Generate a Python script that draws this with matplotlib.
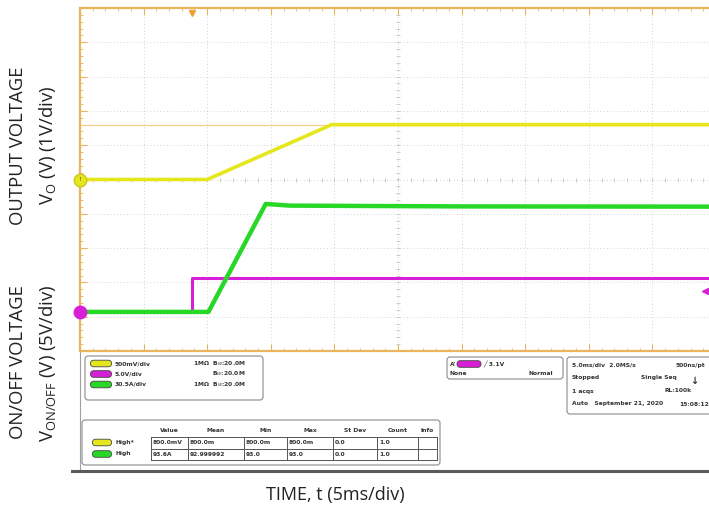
import numpy as np
import matplotlib
matplotlib.use("Agg")
from matplotlib import pyplot as plt
from matplotlib.patches import FancyBboxPatch

plt.rcParams['font.family'] = ['Open Sans', 'DejaVu Sans']
plt.rcParams['mathtext.fontset'] = 'custom'
plt.rcParams['mathtext.rm'] = 'Open Sans'

# time base and vertical scales
ms_per_div = 5.0
vo_per_div = 0.5      # V/div, channel 1
von_per_div = 5.0     # V/div, channel 2
io_per_div = 30.5     # A/div, channel 3
ch2_offset = -3.86    # ground marker position, divisions
ch3_offset = -3.86

# traces (time in ms)
t_vo = [0.0, 10.0, 19.8, 50.0]
vo = [0.0, 0.0, 0.8, 0.8]

t_on = [0.0, 8.8, 8.8, 50.0]
von = [0.0, 0.0, 5.0, 5.0]

t_io = [0.0, 9.4, 10.1, 14.6, 16.5, 30.0, 50.0]
io = [0.0, 0.0, 0.0, 96.0, 94.5, 93.8, 93.6]

trig_time = 8.8
trig_level = 3.1

# scope readout panel
ch_scales = ["500mV/div", "5.0V/div", "30.5A/div"]
ch_imp = ["1MΩ  B$_W$:20.0M", "B$_W$:20.0M", "1MΩ  B$_W$:20.0M"]
meas_cols = ["Value", "Mean", "Min", "Max", "St Dev", "Count", "Info"]
meas_rows = ["High*", "High"]
meas_vals = [["800.0mV", "800.0m", "800.0m", "800.0m", "0.0", "1.0", ""],
             ["93.6A", "92.999992", "93.0", "93.0", "0.0", "1.0", ""]]
acq_left = ["5.0ms/div  2.0MS/s", "Stopped", "1 acqs", "Auto   September 21, 2020"]
acq_right = ["500ns/pt", "Single Seq", "RL:100k", "15:08:12"]

YEL = '#E6E61E'
MAG = '#D81FD8'
GRN = '#27D827'
ORG = '#E8B45C'
GRID = '#C4C4C4'

W, H = 709, 508
fig = plt.figure(figsize=(W / 100, H / 100), dpi=100)

# background overlay in pixel coordinates
bg = fig.add_axes([0, 0, 1, 1])
bg.set_xlim(0, W)
bg.set_ylim(H, 0)
bg.axis('off')

# waveform area: x 80..709, y 8..351 px, 63.6 px per division
x0, x1, y0, y1 = 80, 709, 8, 351
ax = fig.add_axes([x0 / W, 1 - y1 / H, (x1 - x0) / W, (y1 - y0) / H])
xmax = (x1 - x0) / 63.6 * ms_per_div
ax.set_xlim(0, xmax)
ax.set_ylim(-5, 5)
ax.set_facecolor('white')

for s in ['left', 'top', 'bottom']:
    ax.spines[s].set_color(ORG)
    ax.spines[s].set_linewidth(1.6)
ax.spines['right'].set_visible(False)

ax.set_xticks(np.arange(0, xmax, ms_per_div))
ax.set_xticks(np.arange(0, xmax, ms_per_div / 5), minor=True)
ax.set_yticks(np.arange(-5, 6, 1))
ax.set_yticks(np.arange(-5, 5.01, 0.2), minor=True)
ax.tick_params(which='both', direction='in', top=True, bottom=True,
               left=True, right=False, colors=ORG,
               labelbottom=False, labelleft=False)
ax.tick_params(which='major', length=5, width=0.8)
ax.tick_params(which='minor', length=2.5, width=0.6)
ax.grid(True, which='major', color=GRID, lw=0.6, ls=(0, (1, 3)))

# centre cross lines with small ticks
xc = 5 * ms_per_div
mx = np.arange(0, xmax, ms_per_div / 5)
my = np.arange(-5, 5.01, 0.2)
ax.plot(mx, np.zeros_like(mx), ls='none', marker='|', ms=3, mew=0.6, color=GRID)
ax.plot(np.full_like(my, xc), my, ls='none', marker='_', ms=3, mew=0.6, color=GRID)

# cursor line at output level
ax.axhline(vo[-1] / vo_per_div, color='#F6D08F', lw=0.9, zorder=2)

# traces
ax.plot(t_on, np.array(von) / von_per_div + ch2_offset, color=MAG, lw=2.2, zorder=4)
ax.plot(t_io, np.array(io) / io_per_div + ch3_offset, color=GRN, lw=3.2, zorder=5)
ax.plot(t_vo, np.array(vo) / vo_per_div, color=YEL, lw=2.6, zorder=6)

# ground / trigger markers
ax.plot([0], [0], marker='o', ms=9, mfc=YEL, mec='#C8C81A', clip_on=False, zorder=8)
ax.text(0, 0, '1', fontsize=4, ha='center', va='center', color='#555500', zorder=9)
ax.plot([0], [ch2_offset], marker='o', ms=9, mfc=MAG, mec=MAG, clip_on=False, zorder=8)
ax.plot([trig_time], [4.85], marker='v', ms=5, color='#F0A030', clip_on=False, zorder=8)
ax.plot([xmax - 0.3], [trig_level / von_per_div + ch2_offset], marker='<', ms=4,
        color=MAG, clip_on=False, zorder=8)

# ---- readout panel ----
bg.plot([80, 80], [351, 471], color='#A0A0A0', lw=0.8)
bg.plot([72, 709], [471, 471], color='#5A5A5A', lw=2.2)


def rbox(x, y, w, h):
    bg.add_patch(FancyBboxPatch((x, y), w, h, boxstyle='round,pad=0,rounding_size=3',
                                fc='white', ec='#8A8A8A', lw=0.8))


def pill(x, y, c, w=21):
    bg.add_patch(FancyBboxPatch((x - w / 2, y - 3.3), w, 6.6,
                                boxstyle='round,pad=0,rounding_size=3.3',
                                fc=c, ec='#444444', lw=0.6))


small = dict(fontsize=4.3, color='#333333', va='center', family='DejaVu Sans',
             fontweight='bold')

# channel box
rbox(85, 356, 178, 44)
for i, c in enumerate([YEL, MAG, GRN]):
    yy = 363.5 + i * 10.5
    pill(101, yy, c)
    bg.text(115, yy, ch_scales[i], **small)
    bg.text(246, yy, ch_imp[i], ha='right', **small)

# trigger box
rbox(447, 357, 116, 22)
bg.text(450, 364, "A'", **small)
pill(469, 364, MAG, w=24)
bg.text(483, 364, "╱ " + str(trig_level) + "V", **small)
bg.text(450, 373.5, "None", **small)
bg.text(553, 373.5, "Normal", ha='right', **small)

# acquisition box
rbox(567, 357, 150, 57)
right_edges = [705, 677, 692, 709]
for i in range(len(acq_left)):
    yy = 365 + i * 13
    bg.text(572, yy, acq_left[i], **small)
    bg.text(right_edges[i], yy, acq_right[i], ha='right', **small)
bg.text(694, 381, "↓", fontsize=7, ha='center', va='center', color='#333333',
        family='DejaVu Sans', fontweight='bold')

# measurement table
rbox(82, 420, 358, 45)
col_edges = [151, 188, 244, 287, 333, 377, 418, 437]
for j, name in enumerate(meas_cols):
    bg.text((col_edges[j] + col_edges[j + 1]) / 2, 430, name, ha='center', **small)
for r in range(len(meas_rows)):
    yy = 442.5 + r * 11.5
    pill(102, yy, [YEL, GRN][r], w=19)
    bg.text(115, yy, meas_rows[r], **small)
    for j, v in enumerate(meas_vals[r]):
        bg.text(col_edges[j] + 2, yy, v, **small)
for yy in [437, 448.5, 460]:
    bg.plot([col_edges[0], col_edges[-1]], [yy, yy], color='#555555', lw=0.7)
for xx in col_edges:
    bg.plot([xx, xx], [437, 460], color='#555555', lw=0.7)

# axis labels
lab = dict(fontsize=13.3, color='#222222', rotation=90, ha='center', va='center')
bg.text(18, 146, 'OUTPUT VOLTAGE', **lab)
bg.text(48, 145, r'V$_{\mathrm{O}}$ (V) (1V/div)', **lab)
bg.text(18, 362, 'ON/OFF VOLTAGE', **lab)
bg.text(48, 363, r'V$_{\mathrm{ON/OFF}}$ (V) (5V/div)', **lab)
bg.text(335, 495, 'TIME, t (5ms/div)', fontsize=13, color='#222222',
        ha='center', va='center')

fig.savefig('out.png', dpi=100)
